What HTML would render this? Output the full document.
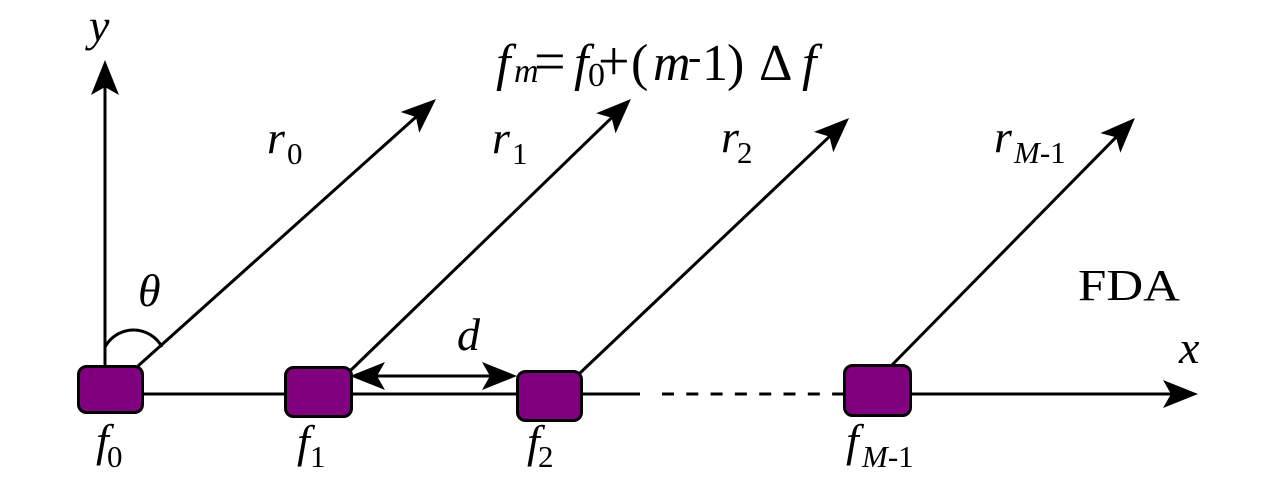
<!DOCTYPE html>
<html>
<head>
<meta charset="utf-8">
<style>
  html, body { margin: 0; padding: 0; background: #ffffff; }
  body { width: 1280px; height: 482px; overflow: hidden; }
  svg { display: block; }
  text { font-family: "Liberation Serif", "DejaVu Serif", serif; fill: #000; }
  .it { font-style: italic; }
</style>
</head>
<body>
<svg width="1280" height="482" viewBox="0 0 1280 482" xmlns="http://www.w3.org/2000/svg">
  <defs>
    <marker id="ah" markerUnits="userSpaceOnUse" markerWidth="40" markerHeight="30"
            refX="10" refY="14" orient="auto" overflow="visible">
      <path d="M0,0 L35,14 L0,28 L8,14 Z" fill="#000"/>
    </marker>
    <marker id="ahs" markerUnits="userSpaceOnUse" markerWidth="40" markerHeight="30"
            refX="10" refY="14" orient="auto-start-reverse" overflow="visible">
      <path d="M0,0 L35,14 L0,28 L8,14 Z" fill="#000"/>
    </marker>
  </defs>

  <!-- y axis -->
  <line x1="105" y1="366" x2="105" y2="85" stroke="#000" stroke-width="3" marker-end="url(#ah)"/>

  <!-- x axis -->
  <line x1="110" y1="394" x2="640" y2="394" stroke="#000" stroke-width="3"/>
  <line x1="662" y1="394" x2="846" y2="394" stroke="#000" stroke-width="3" stroke-dasharray="12 12.3"/>
  <line x1="880" y1="394" x2="1173" y2="394" stroke="#000" stroke-width="3" marker-end="url(#ah)"/>

  <!-- diagonal r arrows -->
  <line x1="138" y1="366" x2="417.4" y2="115.7" stroke="#000" stroke-width="3" marker-end="url(#ah)"/>
  <line x1="350" y1="371" x2="613.0" y2="116.4" stroke="#000" stroke-width="3" marker-end="url(#ah)"/>
  <line x1="580" y1="373" x2="830.9" y2="135.2" stroke="#000" stroke-width="3" marker-end="url(#ah)"/>
  <line x1="891" y1="366" x2="1117.4" y2="135.8" stroke="#000" stroke-width="3" marker-end="url(#ah)"/>

  <!-- theta arc -->
  <path d="M105,347 A32.4,32.4 0 0 1 162,347" fill="none" stroke="#000" stroke-width="3"/>

  <!-- element boxes -->
  <rect x="78.5" y="366.5" width="64" height="46" rx="8" ry="8" fill="#800080" stroke="#000" stroke-width="3"/>
  <rect x="285.5" y="367.5" width="66" height="49" rx="8" ry="8" fill="#800080" stroke="#000" stroke-width="3"/>
  <rect x="517.5" y="371.5" width="64" height="49" rx="8" ry="8" fill="#800080" stroke="#000" stroke-width="3"/>
  <rect x="844.5" y="365.5" width="66" height="50" rx="8" ry="8" fill="#800080" stroke="#000" stroke-width="3"/>

  <!-- d spacing arrow -->
  <line x1="375" y1="376" x2="492" y2="376" stroke="#000" stroke-width="3" marker-start="url(#ahs)" marker-end="url(#ahs)"/>

  <!-- labels -->
  <text class="it" x="89" y="41" font-size="46">y</text>
  <text class="it" x="1179" y="363" font-size="46">x</text>
  <text class="it" x="138" y="306" font-size="46">θ</text>
  <text class="it" x="457" y="350" font-size="46">d</text>
  <text x="1078" y="300" font-size="44" textLength="102" lengthAdjust="spacingAndGlyphs">FDA</text>

  <!-- r labels -->
  <text class="it" x="267" y="153" font-size="46">r</text>
  <text x="287" y="164" font-size="31">0</text>
  <text class="it" x="492" y="153" font-size="46">r</text>
  <text x="512" y="164" font-size="31">1</text>
  <text class="it" x="721" y="152" font-size="46">r</text>
  <text x="737" y="163" font-size="31">2</text>
  <text class="it" x="994" y="152" font-size="46">r</text>
  <text x="1014" y="163" font-size="31"><tspan font-style="italic">M</tspan>-1</text>

  <!-- f labels under boxes -->
  <text class="it" x="96" y="456" font-size="46">f</text>
  <text x="107" y="467" font-size="31">0</text>
  <text class="it" x="297" y="457" font-size="46">f</text>
  <text x="310" y="467" font-size="31">1</text>
  <text class="it" x="527" y="457" font-size="46">f</text>
  <text x="538" y="467" font-size="31">2</text>
  <text class="it" x="846" y="456" font-size="46">f</text>
  <text x="862" y="467" font-size="31"><tspan font-style="italic">M</tspan>-1</text>

  <!-- formula -->
  <text class="it" x="496" y="80" font-size="52">f</text>
  <text class="it" x="514" y="82" font-size="34">m</text>
  <text x="534" y="80" font-size="56">=</text>
  <text class="it" x="574" y="80" font-size="52">f</text>
  <text x="588" y="86" font-size="34">0</text>
  <text x="598" y="80" font-size="56">+</text>
  <text x="631" y="80" font-size="52">(</text>
  <text class="it" x="653" y="80" font-size="52">m</text>
  <text x="688" y="70" font-size="40">-</text>
  <text x="702" y="80" font-size="52">1</text>
  <text x="727" y="80" font-size="52">)</text>
  <text x="759" y="80" font-size="52">Δ</text>
  <text class="it" x="802" y="80" font-size="52">f</text>
</svg>
</body>
</html>
